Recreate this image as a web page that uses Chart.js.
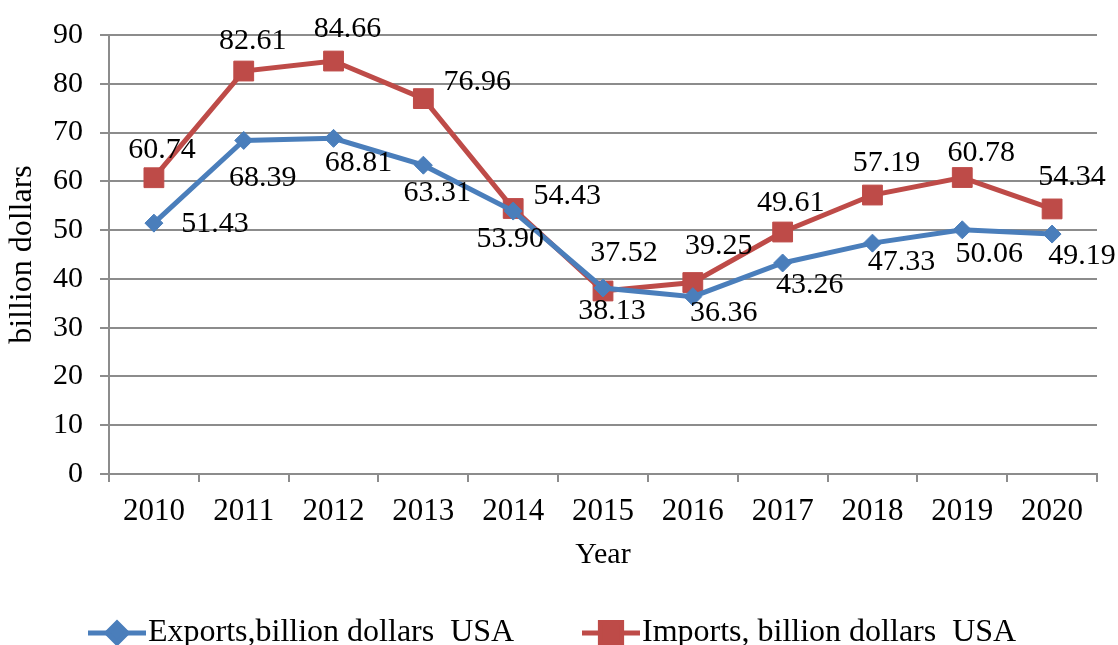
<!DOCTYPE html>
<html>
<head>
<meta charset="utf-8">
<script src="https://cdn.jsdelivr.net/npm/chart.js@4.4.1/dist/chart.umd.min.js"></script>
<style>
  html, body { margin: 0; padding: 0; background: #fff; }
  #wrap { width: 1118px; height: 645px; }
</style>
</head>
<body>
<div id="wrap"><canvas id="c"></canvas></div>
<script>
const years = ['2010', '2011', '2012', '2013', '2014', '2015', '2016', '2017', '2018', '2019', '2020'];
const exportsUSA = [51.43, 68.39, 68.81, 63.31, 53.90, 38.13, 36.36, 43.26, 47.33, 50.06, 49.19];
const importsUSA = [60.74, 82.61, 84.66, 76.96, 54.43, 37.52, 39.25, 49.61, 57.19, 60.78, 54.34];
const yMin = 0, yMax = 90, yStep = 10;

// where each value label sits relative to its point (px)
const exportLabelOffsets = [[61, 1], [19, 38], [25, 25], [14, 28], [-3, 28], [9, 23], [31, 16], [27, 22], [29, 19], [27, 24], [30, 22]];
const importLabelOffsets = [[8, -28], [9, -30], [14, -32], [54, -16], [54, -12], [21, -38], [26, -36], [8, -29], [14, -32], [19, -24], [20, -32]];

const SERIF = "'Liberation Serif', 'Times New Roman', serif";
const GRID = '#8c8c8c';
const BLUE = '#4a7ebb';
const RED = '#be4b48';

const valueLabels = {
  id: 'valueLabels',
  afterDatasetsDraw(chart) {
    const ctx = chart.ctx;
    const offsets = [exportLabelOffsets, importLabelOffsets];
    ctx.save();
    ctx.font = '30px ' + SERIF;
    ctx.fillStyle = '#000';
    ctx.textAlign = 'center';
    ctx.textBaseline = 'middle';
    chart.data.datasets.forEach((ds, i) => {
      chart.getDatasetMeta(i).data.forEach((pt, j) => {
        ctx.fillText(ds.data[j].toFixed(2), pt.x + offsets[i][j][0], pt.y + offsets[i][j][1]);
      });
    });
    ctx.restore();
  }
};

const bottomLegend = {
  id: 'bottomLegend',
  afterDraw(chart) {
    const ctx = chart.ctx;
    const xs = [88, 582];
    const y = 633;
    ctx.save();
    chart.data.datasets.forEach((ds, i) => {
      const x = xs[i];
      ctx.strokeStyle = ds.borderColor;
      ctx.lineWidth = 5;
      ctx.beginPath();
      ctx.moveTo(x, y); ctx.lineTo(x + 58, y);
      ctx.stroke();
      ctx.fillStyle = ds.pointBackgroundColor;
      ctx.strokeStyle = ds.pointBorderColor;
      Chart.helpers.drawPoint(ctx, { pointStyle: ds.pointStyle, radius: ds.pointRadius + 1, borderWidth: 1, rotation: 0 }, x + 29, y);
      ctx.font = '32px ' + SERIF;
      ctx.fillStyle = '#000';
      ctx.textAlign = 'left';
      ctx.textBaseline = 'middle';
      ctx.fillText(ds.label, x + 60, y);
    });
    ctx.restore();
  }
};

new Chart(document.getElementById('c'), {
  type: 'line',
  data: {
    labels: years,
    datasets: [{
      label: 'Exports,billion dollars  USA',
      data: exportsUSA,
      borderColor: BLUE, backgroundColor: BLUE,
      pointBackgroundColor: BLUE, pointBorderColor: BLUE,
      borderWidth: 5, tension: 0,
      pointStyle: 'rectRot', pointRadius: 9, pointBorderWidth: 1, pointHoverRadius: 9
    }, {
      label: 'Imports, billion dollars  USA',
      data: importsUSA,
      borderColor: RED, backgroundColor: RED,
      pointBackgroundColor: RED, pointBorderColor: RED,
      borderWidth: 5, tension: 0,
      pointStyle: 'rect', pointRadius: 14, pointBorderWidth: 1, pointHoverRadius: 14
    }]
  },
  options: {
    responsive: true, maintainAspectRatio: false, animation: false,
    layout: { padding: { left: 0, right: 21, top: 33, bottom: 37 } },
    plugins: { legend: { display: false }, tooltip: { enabled: false } },
    scales: {
      x: {
        offset: true,
        grid: { display: true, drawOnChartArea: false, offset: true, tickLength: 8, color: GRID, lineWidth: 2 },
        border: { color: GRID, width: 2 },
        ticks: { color: '#000', font: { family: SERIF, size: 31 }, padding: 11, maxRotation: 0, autoSkip: false },
        title: { display: true, text: 'Year', color: '#000', font: { family: SERIF, size: 30 }, padding: { top: 0, bottom: 35 } },
        afterFit: s => { s.height = 134; }
      },
      y: {
        min: yMin, max: yMax,
        grid: { color: GRID, lineWidth: 2, tickLength: 9 },
        border: { color: GRID, width: 2 },
        ticks: { stepSize: yStep, color: '#000', font: { family: SERIF, size: 30 }, padding: 17 },
        title: { display: true, text: 'billion dollars', color: '#000', font: { family: SERIF, size: 32 }, padding: { top: 3, bottom: 0 } },
        afterFit: s => { s.width = 109; }
      }
    }
  },
  plugins: [valueLabels, bottomLegend]
});
</script>
</body>
</html>
